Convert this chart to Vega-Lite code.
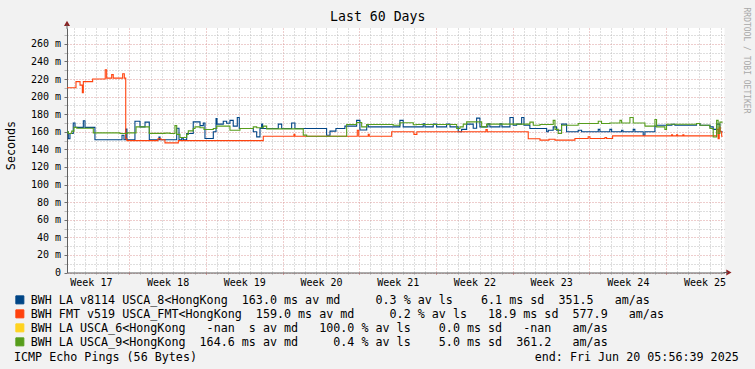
{
  "$schema": "https://vega.github.io/schema/vega-lite/v6.json",
  "width": 657.5,
  "height": 244.5,
  "autosize": {"type": "none"},
  "padding": {"left": 67, "top": 28, "right": 30.5, "bottom": 96.5},
  "background": "#f2f2f2",
  "config": {"view": {"fill": "#ffffff", "stroke": null}, "font": "DejaVu Sans Mono"},
  "title": {"text": "Last 60 Days", "frame": "group", "anchor": "middle", "dx": -18, "dy": 21, "offset": 4, "font": "DejaVu Sans Mono", "fontSize": 13.2, "fontWeight": "normal", "color": "#000000"},
  "resolve": {"axis": {"x": "independent", "y": "independent"}},
  "layer": [
    {
      "data": {"values": [
        {"s":"LA8","d":0,"v":160},{"s":"LA8","d":0.12,"v":152},{"s":"LA8","d":0.27,"v":158},{"s":"LA8","d":0.57,"v":170},{"s":"LA8","d":0.73,"v":165},{"s":"LA8","d":1.49,"v":172.5},{"s":"LA8","d":1.64,"v":165},{"s":"LA8","d":2.55,"v":151},{"s":"LA8","d":5.02,"v":156},{"s":"LA8","d":5.2,"v":151},{"s":"LA8","d":5.36,"v":163},{"s":"LA8","d":5.47,"v":151},{"s":"LA8","d":6.2,"v":172},{"s":"LA8","d":6.66,"v":165.6},{"s":"LA8","d":7.12,"v":171},{"s":"LA8","d":7.51,"v":151},{"s":"LA8","d":8.39,"v":154},{"s":"LA8","d":8.49,"v":151},{"s":"LA8","d":10.01,"v":164},{"s":"LA8","d":10.22,"v":151},{"s":"LA8","d":10.47,"v":153},{"s":"LA8","d":10.61,"v":151},{"s":"LA8","d":10.92,"v":158},{"s":"LA8","d":11.52,"v":171.3},{"s":"LA8","d":12.14,"v":167},{"s":"LA8","d":12.44,"v":170},{"s":"LA8","d":12.59,"v":152.4},{"s":"LA8","d":13.35,"v":160},{"s":"LA8","d":13.6,"v":175},{"s":"LA8","d":13.69,"v":168.7},{"s":"LA8","d":14.26,"v":172},{"s":"LA8","d":14.57,"v":169.7},{"s":"LA8","d":14.87,"v":173},{"s":"LA8","d":15.17,"v":166.4},{"s":"LA8","d":15.54,"v":176.3},{"s":"LA8","d":15.72,"v":163.8},{"s":"LA8","d":17.0,"v":160},{"s":"LA8","d":17.31,"v":154.2},{"s":"LA8","d":17.61,"v":163.8},{"s":"LA8","d":17.76,"v":168.7},{"s":"LA8","d":17.85,"v":163.8},{"s":"LA8","d":19.28,"v":168.7},{"s":"LA8","d":19.59,"v":163.8},{"s":"LA8","d":20.5,"v":170},{"s":"LA8","d":20.8,"v":163.8},{"s":"LA8","d":23.69,"v":156},{"s":"LA8","d":24.0,"v":160.8},{"s":"LA8","d":24.54,"v":163.8},{"s":"LA8","d":25.36,"v":166.4},{"s":"LA8","d":26.43,"v":173},{"s":"LA8","d":26.73,"v":162},{"s":"LA8","d":27.35,"v":168},{"s":"LA8","d":27.49,"v":165.6},{"s":"LA8","d":30.38,"v":173},{"s":"LA8","d":30.68,"v":165.6},{"s":"LA8","d":32.51,"v":169},{"s":"LA8","d":32.66,"v":165.6},{"s":"LA8","d":33.42,"v":168.7},{"s":"LA8","d":33.73,"v":165.6},{"s":"LA8","d":34.64,"v":168.7},{"s":"LA8","d":34.95,"v":165.6},{"s":"LA8","d":35.7,"v":160},{"s":"LA8","d":36.01,"v":162.7},{"s":"LA8","d":36.47,"v":168.7},{"s":"LA8","d":37.07,"v":164},{"s":"LA8","d":37.38,"v":175.5},{"s":"LA8","d":37.68,"v":165.6},{"s":"LA8","d":38.41,"v":169},{"s":"LA8","d":38.59,"v":165.6},{"s":"LA8","d":39.51,"v":169},{"s":"LA8","d":39.69,"v":165.6},{"s":"LA8","d":40.42,"v":176.3},{"s":"LA8","d":40.72,"v":167.4},{"s":"LA8","d":41.03,"v":168.7},{"s":"LA8","d":41.49,"v":176.3},{"s":"LA8","d":41.7,"v":167.4},{"s":"LA8","d":42.24,"v":163.8},{"s":"LA8","d":43.77,"v":160},{"s":"LA8","d":43.92,"v":161.8},{"s":"LA8","d":44.37,"v":165.6},{"s":"LA8","d":44.68,"v":161.8},{"s":"LA8","d":45.13,"v":168.7},{"s":"LA8","d":45.59,"v":160},{"s":"LA8","d":46.65,"v":161.8},{"s":"LA8","d":46.96,"v":160},{"s":"LA8","d":48.48,"v":162.7},{"s":"LA8","d":48.63,"v":160},{"s":"LA8","d":49.54,"v":162.7},{"s":"LA8","d":49.7,"v":160},{"s":"LA8","d":50.61,"v":161.8},{"s":"LA8","d":50.73,"v":160},{"s":"LA8","d":51.67,"v":162.7},{"s":"LA8","d":51.82,"v":160},{"s":"LA8","d":52.58,"v":156},{"s":"LA8","d":52.74,"v":160},{"s":"LA8","d":53.65,"v":166.4},{"s":"LA8","d":53.8,"v":167.4},{"s":"LA8","d":55.2,"v":168.5},{"s":"LA8","d":55.47,"v":167.4},{"s":"LA8","d":57.45,"v":169.4},{"s":"LA8","d":57.76,"v":167.4},{"s":"LA8","d":58.67,"v":165.6},{"s":"LA8","d":58.97,"v":162.7},{"s":"LA8","d":59.28,"v":168.7},{"s":"LA8","d":59.58,"v":160},{"s":"LA8","d":59.83,"v":160},
        {"s":"FMT","d":0,"v":210},{"s":"FMT","d":0.82,"v":217},{"s":"FMT","d":1.19,"v":213},{"s":"FMT","d":1.4,"v":204.5},{"s":"FMT","d":1.49,"v":217},{"s":"FMT","d":2.34,"v":220},{"s":"FMT","d":3.49,"v":230.6},{"s":"FMT","d":3.62,"v":221},{"s":"FMT","d":4.08,"v":225},{"s":"FMT","d":4.22,"v":221},{"s":"FMT","d":5.08,"v":226},{"s":"FMT","d":5.23,"v":221},{"s":"FMT","d":5.36,"v":152},{"s":"FMT","d":5.47,"v":150},{"s":"FMT","d":8.3,"v":152},{"s":"FMT","d":8.58,"v":151},{"s":"FMT","d":8.94,"v":147.4},{"s":"FMT","d":10.16,"v":150},{"s":"FMT","d":17.91,"v":155},{"s":"FMT","d":20.71,"v":157},{"s":"FMT","d":20.8,"v":155},{"s":"FMT","d":26.49,"v":161.7},{"s":"FMT","d":26.62,"v":155},{"s":"FMT","d":27.49,"v":157},{"s":"FMT","d":27.58,"v":155},{"s":"FMT","d":29.63,"v":160},{"s":"FMT","d":31.66,"v":157},{"s":"FMT","d":31.93,"v":160},{"s":"FMT","d":38.23,"v":162.5},{"s":"FMT","d":38.35,"v":160},{"s":"FMT","d":42.09,"v":152},{"s":"FMT","d":43.16,"v":150.5},{"s":"FMT","d":43.98,"v":151.5},{"s":"FMT","d":44.53,"v":150.5},{"s":"FMT","d":46.35,"v":152.4},{"s":"FMT","d":47.56,"v":154.3},{"s":"FMT","d":47.72,"v":152.4},{"s":"FMT","d":49.09,"v":153.5},{"s":"FMT","d":49.24,"v":152.4},{"s":"FMT","d":49.79,"v":155.4},{"s":"FMT","d":55.17,"v":156.5},{"s":"FMT","d":55.26,"v":155.4},{"s":"FMT","d":55.63,"v":156.5},{"s":"FMT","d":55.72,"v":155.4},{"s":"FMT","d":56.2,"v":156.5},{"s":"FMT","d":56.29,"v":155.4},{"s":"FMT","d":59.28,"v":162.7},{"s":"FMT","d":59.42,"v":152},{"s":"FMT","d":59.52,"v":165},{"s":"FMT","d":59.61,"v":160},{"s":"FMT","d":59.74,"v":155},{"s":"FMT","d":59.83,"v":155},
        {"s":"LA9","d":0,"v":160},{"s":"LA9","d":0.12,"v":158},{"s":"LA9","d":0.43,"v":160.7},{"s":"LA9","d":0.64,"v":165},{"s":"LA9","d":0.89,"v":164},{"s":"LA9","d":2.4,"v":158.8},{"s":"LA9","d":4.84,"v":158},{"s":"LA9","d":5.5,"v":158.8},{"s":"LA9","d":6.3,"v":165.6},{"s":"LA9","d":7.51,"v":158.2},{"s":"LA9","d":8.94,"v":158.5},{"s":"LA9","d":9.4,"v":158},{"s":"LA9","d":9.85,"v":167},{"s":"LA9","d":10.01,"v":157},{"s":"LA9","d":10.31,"v":153.5},{"s":"LA9","d":10.92,"v":157},{"s":"LA9","d":11.07,"v":161},{"s":"LA9","d":11.52,"v":163.7},{"s":"LA9","d":11.68,"v":165.6},{"s":"LA9","d":12.14,"v":164.5},{"s":"LA9","d":12.5,"v":162.6},{"s":"LA9","d":13.35,"v":163.7},{"s":"LA9","d":13.66,"v":166.4},{"s":"LA9","d":14.87,"v":161.8},{"s":"LA9","d":15.78,"v":163.7},{"s":"LA9","d":17.0,"v":165.6},{"s":"LA9","d":17.31,"v":164.5},{"s":"LA9","d":17.91,"v":166.4},{"s":"LA9","d":18.22,"v":163.3},{"s":"LA9","d":21.56,"v":156.2},{"s":"LA9","d":21.87,"v":155},{"s":"LA9","d":25.52,"v":168.3},{"s":"LA9","d":26.43,"v":170.5},{"s":"LA9","d":26.89,"v":165.6},{"s":"LA9","d":27.35,"v":168.3},{"s":"LA9","d":29.77,"v":167.5},{"s":"LA9","d":30.38,"v":170.2},{"s":"LA9","d":31.6,"v":168},{"s":"LA9","d":31.9,"v":168.3},{"s":"LA9","d":35.56,"v":163.8},{"s":"LA9","d":35.86,"v":165.6},{"s":"LA9","d":36.16,"v":168.7},{"s":"LA9","d":36.47,"v":171.3},{"s":"LA9","d":37.84,"v":165.6},{"s":"LA9","d":38.29,"v":168.7},{"s":"LA9","d":42.24,"v":171},{"s":"LA9","d":42.55,"v":167.4},{"s":"LA9","d":43.16,"v":168.3},{"s":"LA9","d":44.37,"v":173},{"s":"LA9","d":44.53,"v":162.7},{"s":"LA9","d":44.83,"v":158},{"s":"LA9","d":45.13,"v":167.4},{"s":"LA9","d":46.65,"v":169.4},{"s":"LA9","d":48.48,"v":172},{"s":"LA9","d":48.78,"v":169.4},{"s":"LA9","d":49.54,"v":170},{"s":"LA9","d":50.46,"v":173},{"s":"LA9","d":50.61,"v":170},{"s":"LA9","d":51.37,"v":176.3},{"s":"LA9","d":51.67,"v":169.9},{"s":"LA9","d":52.74,"v":166.4},{"s":"LA9","d":53.65,"v":174},{"s":"LA9","d":53.8,"v":165.6},{"s":"LA9","d":54.56,"v":162.7},{"s":"LA9","d":54.71,"v":168.6},{"s":"LA9","d":57.45,"v":169.4},{"s":"LA9","d":57.76,"v":167.4},{"s":"LA9","d":58.67,"v":163.8},{"s":"LA9","d":58.97,"v":154},{"s":"LA9","d":59.28,"v":173},{"s":"LA9","d":59.42,"v":158},{"s":"LA9","d":59.58,"v":171},{"s":"LA9","d":59.83,"v":171}
      ]},
      "mark": {"type": "line", "interpolate": "step-after", "strokeWidth": 1.1},
      "encoding": {
        "x": {"field": "d", "type": "quantitative", "scale": {"domain": [0, 60], "nice": false, "zero": false},
          "axis": {
            "values": [0.68,1.68,2.68,3.68,4.68,5.68,6.68,7.68,8.68,9.68,10.68,11.68,12.68,13.68,14.68,15.68,16.68,17.68,18.68,19.68,20.68,21.68,22.68,23.68,24.68,25.68,26.68,27.68,28.68,29.68,30.68,31.68,32.68,33.68,34.68,35.68,36.68,37.68,38.68,39.68,40.68,41.68,42.68,43.68,44.68,45.68,46.68,47.68,48.68,49.68,50.68,51.68,52.68,53.68,54.68,55.68,56.68,57.68,58.68,59.68],
            "title": null,
            "labels": false,
            "domainColor": "#606060",
            "grid": true,
            "gridDash": [1, 2],
            "gridColor": {"condition": {"test": "abs((datum.value-5.68)/7-round((datum.value-5.68)/7))<0.01", "value": "#dc9a9a"}, "value": "#bdbdbd"},
            "tickSize": 2,
            "tickColor": {"condition": {"test": "abs((datum.value-5.68)/7-round((datum.value-5.68)/7))<0.01", "value": "#dc9a9a"}, "value": "#c8c8c8"}
          }
        },
        "y": {"field": "v", "type": "quantitative", "scale": {"domain": [0, 278], "nice": false, "zero": true},
          "axis": {
            "values": [0,10,20,30,40,50,60,70,80,90,100,110,120,130,140,150,160,170,180,190,200,210,220,230,240,250,260,270],
            "title": "Seconds",
            "titleFont": "DejaVu Sans Mono", "titleFontSize": 11.7, "titleFontWeight": "normal", "titleColor": "#000000",
            "titleAngle": -90, "titleX": -57, "titleY": 117, "titleAlign": "center", "titleBaseline": "middle",
            "domainColor": "#606060",
            "grid": true,
            "gridDash": [1, 2],
            "gridColor": {"condition": {"test": "datum.value % 20 == 0", "value": "#dc9a9a"}, "value": "#bdbdbd"},
            "tickSize": 3,
            "tickColor": {"condition": {"test": "datum.value % 20 == 0", "value": "#707070"}, "value": "#b8b8b8"},
            "labelExpr": "datum.value % 20 == 0 ? (datum.value == 0 ? '0\u00a0\u00a0' : datum.value + ' m') : ''",
            "labelFont": "DejaVu Sans Mono", "labelFontSize": 10, "labelColor": "#000000",
            "labelPadding": 3.5, "labelOverlap": false, "labelFlush": false, "labelBound": false
          }
        },
        "color": {"field": "s", "type": "nominal",
          "scale": {"domain": ["LA8", "FMT", "LA6", "LA9"], "range": ["#004586", "#ff420e", "#ffd320", "#579d1c"]},
          "legend": {
            "orient": "none", "legendX": -53, "legendY": 266, "direction": "vertical", "padding": 0,
            "symbolType": "square", "symbolSize": 64, "symbolStrokeWidth": 1,
            "labelFont": "DejaVu Sans Mono", "labelFontSize": 11.7, "labelColor": "#000000", "labelLimit": 2000, "labelOffset": 5,
            "rowPadding": 0,
            "labelExpr": "datum.label == 'LA8' ? 'BWH LA v8114 USCA_8<HongKong\u00a0\u00a0163.0 ms av md\u00a0\u00a0\u00a0\u00a0\u00a00.3 % av ls\u00a0\u00a0\u00a0\u00a06.1 ms sd\u00a0\u00a0351.5\u00a0\u00a0\u00a0am/as' : datum.label == 'FMT' ? 'BWH FMT v519 USCA_FMT<HongKong\u00a0\u00a0159.0 ms av md\u00a0\u00a0\u00a0\u00a0\u00a00.2 % av ls\u00a0\u00a0\u00a018.9 ms sd\u00a0\u00a0577.9\u00a0\u00a0\u00a0am/as' : datum.label == 'LA6' ? 'BWH LA USCA_6<HongKong\u00a0\u00a0\u00a0-nan\u00a0\u00a0s av md\u00a0\u00a0\u00a0100.0 % av ls\u00a0\u00a0\u00a0\u00a00.0 ms sd\u00a0\u00a0\u00a0-nan\u00a0\u00a0\u00a0am/as' : 'BWH LA USCA_9<HongKong\u00a0\u00a0164.6 ms av md\u00a0\u00a0\u00a0\u00a0\u00a00.4 % av ls\u00a0\u00a0\u00a0\u00a05.0 ms sd\u00a0\u00a0361.2\u00a0\u00a0\u00a0am/as'",
            "title": "ICMP Echo Pings (56 Bytes)\u00a0\u00a0\u00a0\u00a0\u00a0\u00a0\u00a0\u00a0\u00a0\u00a0\u00a0\u00a0\u00a0\u00a0\u00a0\u00a0\u00a0\u00a0\u00a0\u00a0\u00a0\u00a0\u00a0\u00a0\u00a0\u00a0\u00a0\u00a0\u00a0\u00a0\u00a0\u00a0\u00a0\u00a0\u00a0\u00a0\u00a0\u00a0\u00a0\u00a0\u00a0\u00a0\u00a0\u00a0\u00a0\u00a0\u00a0\u00a0end: Fri Jun 20 05:56:39 2025",
            "titleOrient": "bottom", "titleAnchor": "start", "titleAlign": "left",
            "titleFont": "DejaVu Sans Mono", "titleFontSize": 11.7, "titleFontWeight": "normal", "titleColor": "#000000", "titleLimit": 2000, "titlePadding": 3.4,
            "encode": {"symbols": {"update": {"fill": {"scale": "color", "field": "value"}, "stroke": {"value": "#000000"}, "strokeWidth": {"value": 1}, "opacity": {"value": 1}}}}
          }
        }
      }
    },
    {
      "data": {"values": [{}]},
      "mark": {"type": "point", "shape": "triangle-up", "filled": true, "size": 36, "color": "#8a2020", "opacity": 1, "strokeWidth": 0},
      "encoding": {
        "x": {"datum": 0, "type": "quantitative", "axis": null},
        "y": {"datum": 283.3, "type": "quantitative",
          "axis": {"orient": "right", "title": "RRDTOOL / TOBI OETIKER", "labels": false, "ticks": false, "domain": false, "grid": false,
            "titleAngle": 90, "titleX": 20.5, "titleY": 32, "titleAlign": "center", "titleBaseline": "middle",
            "titleFont": "DejaVu Sans Mono", "titleFontSize": 8, "titleFontWeight": "normal", "titleColor": "#a8a8a8"}
        }
      }
    },
    {
      "data": {"values": [{}]},
      "mark": {"type": "point", "shape": "triangle-right", "filled": true, "size": 36, "color": "#8a2020", "opacity": 1, "strokeWidth": 0},
      "encoding": {
        "x": {"datum": 60.4, "type": "quantitative",
          "axis": {
            "orient": "bottom",
            "values": [2.18, 9.18, 16.18, 23.18, 30.18, 37.18, 44.18, 51.18, 58.18],
            "labelExpr": "'Week ' + (17 + round((datum.value - 2.18) / 7))",
            "title": null, "grid": false, "ticks": false, "domain": false,
            "labelFont": "DejaVu Sans Mono", "labelFontSize": 10, "labelColor": "#000000",
            "labelPadding": 4.5, "labelOverlap": false, "labelFlush": false, "labelBound": false
          }
        },
        "y": {"datum": 0, "type": "quantitative", "axis": null}
      }
    },
    {
      "data": {"values": [{}]},
      "mark": {"type": "rule", "color": "#606060", "strokeWidth": 1},
      "encoding": {
        "x": {"datum": 0, "type": "quantitative", "axis": null},
        "y": {"datum": 277, "type": "quantitative", "axis": null},
        "y2": {"datum": 282}
      }
    },
    {
      "data": {"values": [{}]},
      "mark": {"type": "rule", "color": "#606060", "strokeWidth": 1},
      "encoding": {
        "y": {"datum": 0, "type": "quantitative", "axis": null},
        "x": {"datum": 59.9, "type": "quantitative", "axis": null},
        "x2": {"datum": 60.3}
      }
    }
  ]
}
